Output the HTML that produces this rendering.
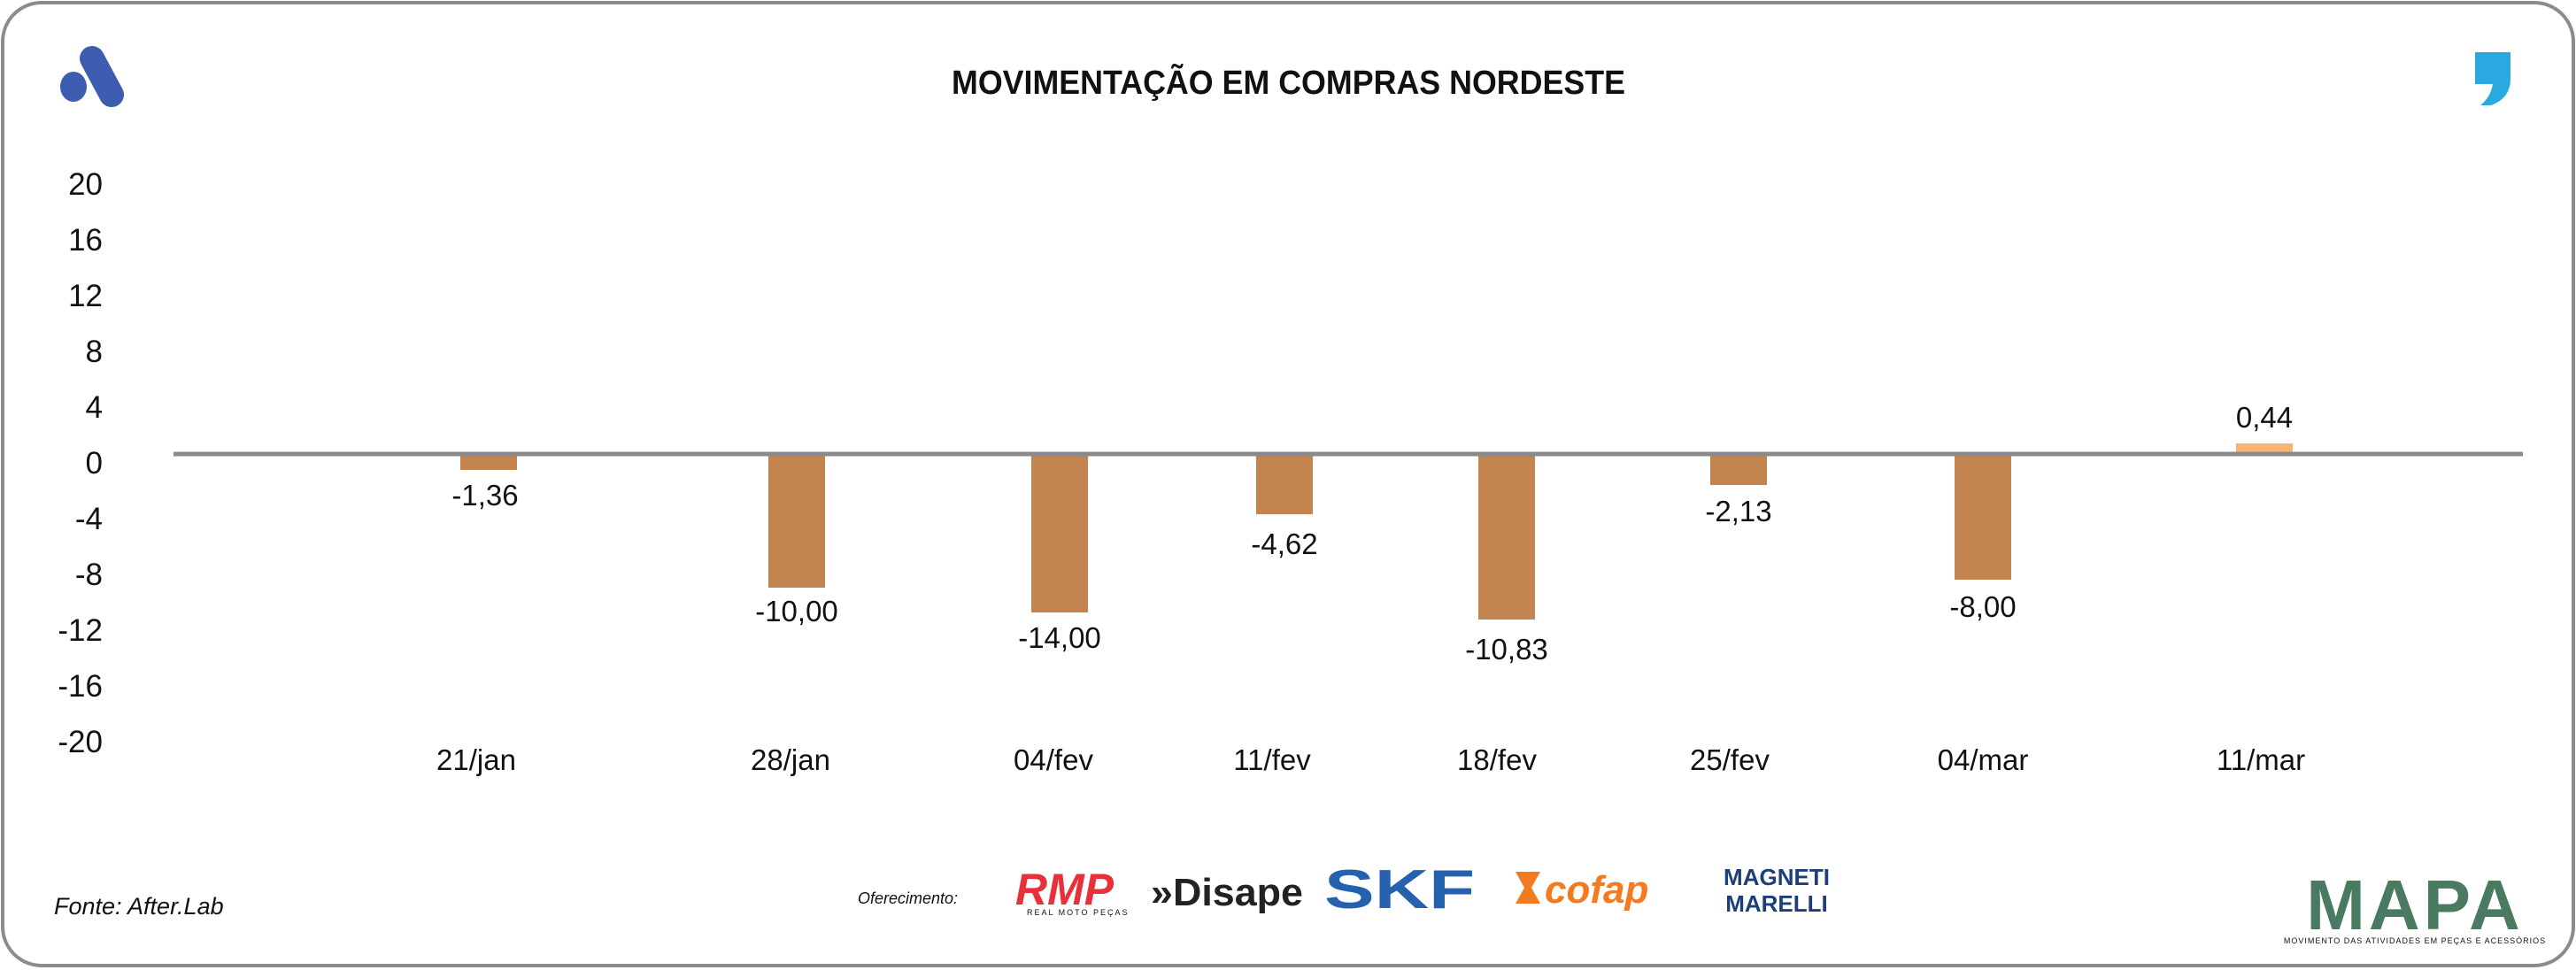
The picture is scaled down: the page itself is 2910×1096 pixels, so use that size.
<!DOCTYPE html>
<html><head><meta charset="utf-8"><style>
body{margin:0;background:#fff;}
svg{display:block}
text{font-family:"Liberation Sans Narrow","Liberation Sans",sans-serif;fill:#111}
</style></head><body>
<svg width="2910" height="1096" viewBox="0 0 2910 1096" xmlns="http://www.w3.org/2000/svg">
<rect x="3" y="3" width="2904" height="1088" rx="44" fill="#fff" stroke="#8c8c8c" stroke-width="4"/>
<line x1="104" y1="66" x2="126" y2="107" stroke="#3d5db0" stroke-width="28" stroke-linecap="round"/>
<ellipse cx="83" cy="98" rx="15" ry="17" fill="#3d5db0"/>
<path d="M2796 59 h40 v30 q0 22 -22 30 h-12 q12 -10 14 -24 h-20 z" fill="#29a9e0"/>
<text x="1075" y="106" font-size="38" font-weight="bold" textLength="761" lengthAdjust="spacingAndGlyphs">MOVIMENTAÇÃO EM COMPRAS NORDESTE</text>
<g font-size="35" text-anchor="end">
<text x="116" y="220">20</text><text x="116" y="283">16</text><text x="116" y="346">12</text>
<text x="116" y="409">8</text><text x="116" y="472">4</text><text x="116" y="535">0</text>
<text x="116" y="598">-4</text><text x="116" y="661">-8</text><text x="116" y="724">-12</text>
<text x="116" y="787">-16</text><text x="116" y="850">-20</text>
</g>
<g fill="#c4844f">
<rect x="520" y="513" width="64" height="18"/>
<rect x="868" y="513" width="64" height="151"/>
<rect x="1165" y="513" width="64" height="179"/>
<rect x="1419" y="513" width="64" height="68"/>
<rect x="1670" y="513" width="64" height="187"/>
<rect x="1932" y="513" width="64" height="35"/>
<rect x="2208" y="513" width="64" height="142"/>
</g>
<rect x="2526" y="501" width="64" height="12" fill="#f6b477"/>
<line x1="196" y1="513" x2="2850" y2="513" stroke="#8a8a8a" stroke-width="5"/>
<g font-size="33" text-anchor="middle">
<text x="548" y="571">-1,36</text>
<text x="900" y="702">-10,00</text>
<text x="1197" y="732">-14,00</text>
<text x="1451" y="626">-4,62</text>
<text x="1702" y="745">-10,83</text>
<text x="1964" y="589">-2,13</text>
<text x="2240" y="697">-8,00</text>
<text x="2558" y="483">0,44</text>
</g>
<g font-size="33" text-anchor="middle">
<text x="538" y="870">21/jan</text><text x="893" y="870">28/jan</text><text x="1190" y="870">04/fev</text>
<text x="1437" y="870">11/fev</text><text x="1691" y="870">18/fev</text><text x="1954" y="870">25/fev</text>
<text x="2240" y="870">04/mar</text><text x="2554" y="870">11/mar</text>
</g>
<text x="61" y="1033" font-size="27" font-style="italic" style="font-family:'Liberation Sans',sans-serif">Fonte: After.Lab</text>
<text x="969" y="1021" font-size="18" font-style="italic" style="font-family:'Liberation Sans',sans-serif">Oferecimento:</text>
<text x="1147" y="1022" font-size="50" font-weight="bold" font-style="italic" style="fill:#e8303a;font-family:'Liberation Sans',sans-serif">RMP</text>
<text x="1160" y="1034" font-size="9" letter-spacing="2">REAL MOTO PEÇAS</text>
<text x="1300" y="1023" font-size="44" font-weight="bold" textLength="172" lengthAdjust="spacingAndGlyphs" style="fill:#222">»Disape</text>
<text x="1496" y="1026" font-size="62" font-weight="bold" textLength="170" lengthAdjust="spacingAndGlyphs" style="fill:#2661b0;font-family:'Liberation Sans',sans-serif">SKF</text>
<path d="M1712 985 h28 l-10 18 l10 18 h-28 l10 -18 z" fill="#f47a20"/>
<text x="1745" y="1020" font-size="44" font-weight="bold" font-style="italic" style="fill:#f47a20;font-family:'Liberation Sans',sans-serif">cofap</text>
<text x="2007" y="1000" font-size="26" font-weight="bold" text-anchor="middle" style="fill:#1c3f7a">MAGNETI</text>
<text x="2007" y="1030" font-size="26" font-weight="bold" text-anchor="middle" style="fill:#1c3f7a">MARELLI</text>
<text x="2728" y="1050" font-size="80" font-weight="bold" text-anchor="middle" style="fill:#4a7a60" letter-spacing="4">MAPA</text>
<text x="2728" y="1066" font-size="9" text-anchor="middle" letter-spacing="1">MOVIMENTO DAS ATIVIDADES EM PEÇAS E ACESSÓRIOS</text>
</svg>
</body></html>
